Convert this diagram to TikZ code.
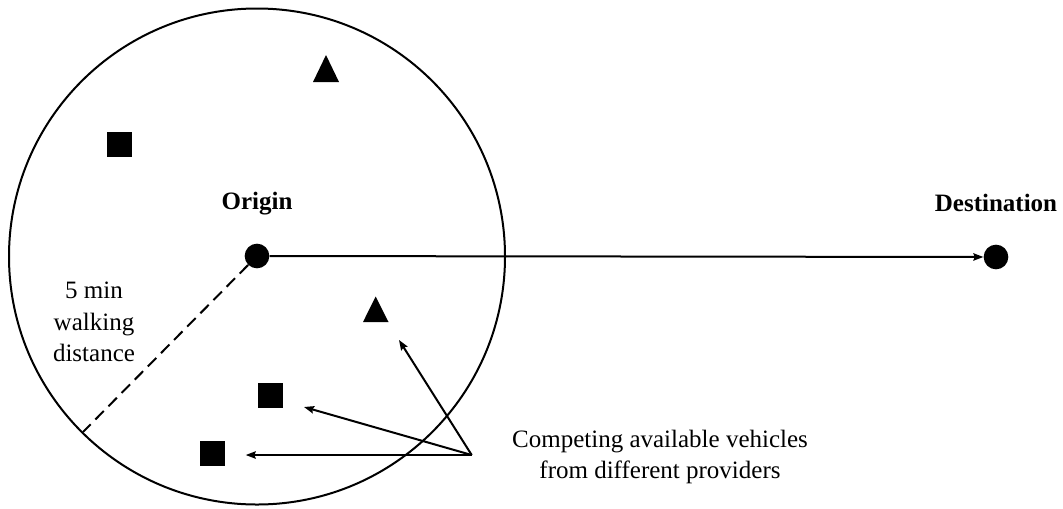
\documentclass[tikz,border=0pt]{standalone}
\usepackage{fontspec}
\setmainfont{Liberation Serif}
\usetikzlibrary{arrows.meta}
\begin{document}
\begin{tikzpicture}[x=0.75pt,y=-0.75pt,
  dot/.style={circle,fill=black,inner sep=0pt,minimum size=18.5pt},
  sq/.style={rectangle,fill=black,inner sep=0pt,minimum size=18.75pt},
  lbl/.style={font=\fontsize{18.75}{23.5}\selectfont,align=center,inner sep=0pt},
  blbl/.style={lbl,font=\fontsize{18.75}{23.5}\selectfont\bfseries},
  line/.style={line width=1.5pt},
  arr/.style={line width=1.5pt,-{Stealth[length=7.5pt,width=5.5pt,inset=1pt]}}
]
\useasboundingbox (0,0) rectangle (1063,508);
% walking circle
\draw[line] (257,256.5) circle[radius=186pt];
% origin and destination
\node[dot] (o) at (257,256) {};
\node[dot] (d) at (996,257) {};
\node[blbl] (olbl) at (257,204) {Origin};
\node[blbl] (dlbl) at (996,203) {Destination};
\draw[arr] (o) -- (d);
% radius
\coordinate (rim) at (83,432);
\draw[line,dash pattern=on 9pt off 5pt] (o) -- (rim);
\node[lbl] (walk) at (94,322) {5 min\\walking\\distance};
% vehicles
\fill (326,55) -- (339,82) -- (313,82) -- cycle;
\coordinate (t1) at (326,70);
\node[sq] (s1) at (119.5,144.5) {};
\fill (375.7,296.5) -- (388.5,322) -- (363,322) -- cycle;
\coordinate (t2) at (375.7,312);
\node[sq] (s2) at (270.5,395.5) {};
\node[sq] (s3) at (212.5,453.5) {};
% label and pointers
\node[lbl] (comp) at (660,457) {Competing available vehicles\\from different providers};
\coordinate (src) at (471.7,455);
\coordinate (e1) at (399,340);
\coordinate (e2) at (304,407);
\coordinate (e3) at (245.7,455);
\draw[arr] (src) -- (e1);
\draw[arr] (src) -- (e2);
\draw[arr] (src) -- (e3);
\end{tikzpicture}
\end{document}
